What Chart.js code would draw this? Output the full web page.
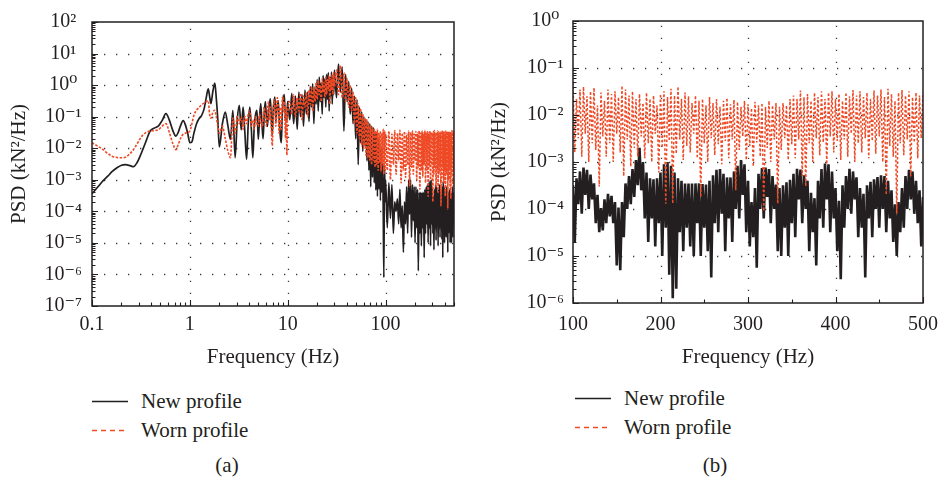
<!DOCTYPE html>
<html>
<head>
<meta charset="utf-8">
<script src="https://cdn.jsdelivr.net/npm/chart.js@4.4.0/dist/chart.umd.min.js"></script>
<style>
  body { margin: 0; background: #fff; }
  #wrap { position: relative; width: 948px; height: 481px; overflow: hidden;
          font-family: 'Liberation Serif', 'DejaVu Serif', serif; color: #231f20; }
  canvas { position: absolute; top: 0; }
  .lg { position: absolute; font-size: 21px; line-height: 24px; white-space: nowrap; }
  .lg svg { position: absolute; left: -49px; top: 11px; }
  .cap { position: absolute; font-size: 21px; line-height: 24px; transform: translateX(-50%); }
</style>
</head>
<body>
<div id="wrap">
  <canvas id="chartA" width="470" height="380" style="left:0"></canvas>
  <canvas id="chartB" width="474" height="380" style="left:474px"></canvas>

  <div class="lg" style="left:141px; top:389px">
    <svg width="36" height="3"><line x1="0" y1="1.5" x2="36" y2="1.5" stroke="#231f20" stroke-width="1.5"/></svg>New profile</div>
  <div class="lg" style="left:141px; top:418px">
    <svg width="36" height="3"><line x1="0" y1="1.5" x2="36" y2="1.5" stroke="#ef4a26" stroke-width="1.5" stroke-dasharray="5 4"/></svg>Worn profile</div>
  <div class="lg" style="left:624px; top:386px">
    <svg width="36" height="3"><line x1="0" y1="1.5" x2="36" y2="1.5" stroke="#231f20" stroke-width="1.5"/></svg>New profile</div>
  <div class="lg" style="left:624px; top:415px">
    <svg width="36" height="3"><line x1="0" y1="1.5" x2="36" y2="1.5" stroke="#ef4a26" stroke-width="1.5" stroke-dasharray="5 4"/></svg>Worn profile</div>
  <div class="cap" style="left:227px; top:453px">(a)</div>
  <div class="cap" style="left:715px; top:453px">(b)</div>
</div>

<script>
// ---- panel (a): 0.1 - 500 Hz, log frequency axis ----
var aFreq = [
  0.1, 0.115, 0.13, 0.145, 0.16, 0.18, 0.2, 0.22, 0.245, 0.265,
  0.29, 0.31, 0.33, 0.36, 0.39, 0.43, 0.475, 0.52, 0.57, 0.62,
  0.67, 0.72, 0.76, 0.8, 0.855, 0.9, 0.95, 1.0, 1.05, 1.1,
  1.17, 1.25, 1.32, 1.4, 1.47, 1.54, 1.59, 1.64, 1.72, 1.8,
  1.86, 1.93, 2.0,
  2.15, 2.3, 2.45, 2.6, 2.75, 2.9, 3.05, 3.2, 3.35, 3.5,
  3.65, 3.8, 3.95, 4.1, 4.25, 4.4, 4.55, 4.7, 4.85, 5.0,
  5.15, 5.3, 5.45, 5.6, 5.75, 5.9, 6.05, 6.2, 6.35, 6.5,
  6.65, 6.8, 6.95, 7.1, 7.25, 7.4, 7.55, 7.7, 7.85, 8.0,
  8.15, 8.3, 8.45, 8.6, 8.75, 8.9, 9.05, 9.2, 9.35, 9.5,
  9.65, 9.8, 9.95,
  10.5, 11, 11.5, 12, 12.5, 13, 13.5, 14, 14.5, 15,
  15.5, 16, 16.5, 17, 17.5, 18, 18.5, 19, 19.5, 20,
  20.5, 21, 21.5, 22, 22.5, 23, 23.5, 24, 24.5, 25,
  25.5, 26, 26.5, 27, 27.5, 28, 28.5, 29, 29.5, 30,
  31.5, 33, 34.5, 36, 37.5, 39, 40.5, 42, 43.5, 45,
  46.5, 48, 49.5, 51, 52.5, 54, 55.5, 57, 58.5, 60,
  61.5, 63, 64.5, 66, 67.5, 69, 70.5, 72, 73.5, 75,
  76.5, 78, 79.5, 81, 82.5, 84, 85.5, 87, 88.5, 90,
  91.5, 93, 94.5, 96, 97.5, 99,
  100, 104, 108, 112, 116, 120, 124, 128, 132, 136,
  140, 144, 148, 152, 156, 160, 164, 168, 172, 176,
  180, 184, 188, 192, 196, 200, 204, 208, 212, 216,
  220, 224, 228, 232, 236, 240, 244, 248, 252, 256,
  260, 264, 268, 272, 276, 280, 284, 288, 292, 296,
  300, 304, 308, 312, 316, 320, 324, 328, 332, 336,
  340, 344, 348, 352, 356, 360, 364, 368, 372, 376,
  380, 384, 388, 392, 396, 400, 404, 408, 412, 416,
  420, 424, 428, 432, 436, 440, 444, 448, 452, 456,
  460, 464, 468, 472, 476, 480, 484, 488, 492, 496,
  500
];

var aNew = [
  3.6e-4, 6e-4, 9.4e-4, 1.3e-3, 1.8e-3, 2.4e-3, 2.9e-3, 3e-3, 2.8e-3, 2.6e-3,
  3.6e-3, 5.6e-3, 9e-3, 1.8e-2, 3.4e-2, 4.3e-2, 5e-2, 7.5e-2, 0.125, 7.5e-2,
  3.6e-2, 2.4e-2, 3.2e-2, 5e-2, 7.5e-2, 5.5e-2, 3e-2, 1.5e-2, 1.6e-2, 3e-2,
  6e-2, 9e-2, 0.11, 0.18, 0.4, 0.76, 0.45, 0.26, 0.65, 1.15,
  0.4, 8e-2, 1.1e-2,
  0.06, 0.14, 0.05, 0.019, 0.16, 0.005, 0.08, 0.23, 0.038, 0.2,
  0.03, 0.0045, 0.06, 0.2, 0.04, 0.005, 0.05, 0.12, 0.16, 0.019,
  0.09, 0.26, 0.06, 0.02, 0.12, 0.3, 0.1, 0.049, 0.15, 0.25,
  0.37, 0.08, 0.027, 0.15, 0.3, 0.42, 0.07, 0.15, 0.25, 0.32,
  0.1, 0.04, 0.02, 0.015, 0.08, 0.25, 0.4, 0.5, 0.2, 0.1,
  0.07, 0.07, 0.3,
  0.08, 0.55, 0.06, 0.45, 0.04, 0.6, 0.1, 0.5, 0.05, 0.7,
  0.12, 0.6, 0.07, 0.9, 0.2, 1.1, 0.06, 0.9, 0.25, 1.5,
  0.15, 1.8, 0.3, 1.2, 0.12, 2.0, 0.4, 1.6, 0.2, 2.2,
  0.35, 2.5, 0.15, 1.8, 0.45, 2.6, 0.25, 2.0, 0.5, 3.0,
  0.4, 4.6, 0.6, 3.8, 0.035, 2.2, 0.3, 1.3, 0.12, 0.8,
  0.06, 0.45, 0.02, 0.35, 0.003, 0.2, 0.015, 0.14, 0.008, 0.1,
  0.012, 0.08, 0.004, 0.07, 0.002, 0.06, 6e-4, 0.05, 1.2e-3, 0.045,
  8e-4, 0.035, 4.7e-4, 0.03, 3e-4, 0.02, 5e-4, 0.015, 2.2e-4, 0.01,
  4e-4, 0.006, 1.5e-4, 8e-7, 3e-3, 2e-4,
  1e-3, 3e-5, 8e-4, 6e-5, 7e-4, 2e-5, 2e-4, 1e-4, 2.5e-4, 4e-5,
  5e-4, 3e-5, 1.5e-4, 5e-6, 2e-4, 4e-5, 6e-4, 2e-5, 1e-3, 8e-5,
  1e-3, 1.5e-5, 7e-4, 5e-5, 6e-4, 1e-5, 6e-4, 3e-5, 5e-4, 1.3e-6,
  4e-4, 2e-5, 4e-4, 8e-6, 4e-4, 3e-5, 4e-4, 3.4e-6, 5e-4, 2e-5,
  6e-4, 4e-5, 7e-4, 1e-5, 8e-4, 3e-5, 9e-4, 8e-6, 1e-3, 4e-5,
  6e-4, 2e-5, 3e-4, 6e-6, 5e-4, 3e-5, 7e-4, 1.2e-5, 6e-4, 4e-5,
  4e-4, 8e-6, 5e-4, 3e-5, 7e-4, 1.5e-5, 5e-4, 4e-5, 3e-4, 1.3e-5,
  6e-4, 3.4e-6, 9e-4, 3e-5, 6e-4, 1e-5, 2e-4, 4e-5, 4e-4, 1.5e-5,
  6e-4, 3e-5, 5e-4, 5e-6, 4e-4, 2e-5, 4e-4, 3e-5, 5e-4, 1e-5,
  4e-4, 4e-5, 2e-4, 1e-5, 4e-4, 3e-5, 6e-4, 1.5e-5, 4e-4, 4e-5,
  2e-4
];

var aWorn = [
  1.5e-2, 1.15e-2, 9e-3, 6.8e-3, 5.6e-3, 5.1e-3, 5e-3, 5.2e-3, 6.8e-3, 9e-3,
  1.4e-2, 2e-2, 2.6e-2, 3.2e-2, 3.5e-2, 3.6e-2, 3.8e-2, 5e-2, 6e-2, 3e-2,
  1.4e-2, 9e-3, 1.3e-2, 2e-2, 2.8e-2, 3e-2, 3.2e-2, 3.5e-2, 6e-2, 0.11,
  0.16, 0.2, 0.24, 0.27, 0.3, 0.32, 0.12, 9e-2, 0.14, 0.16,
  0.1, 5e-2, 3e-2,
  0.05, 0.02, 0.008, 0.005, 0.09, 0.03, 0.1, 0.06, 0.1, 0.04,
  0.1, 0.06, 0.12, 0.15, 0.05, 0.08, 0.04, 0.1, 0.06, 0.05,
  0.12, 0.07, 0.045, 0.08, 0.2, 0.1, 0.05, 0.12, 0.3, 0.08,
  0.2, 0.04, 0.012, 0.1, 0.35, 0.2, 0.05, 0.2, 0.4, 0.15,
  0.03, 0.2, 0.1, 0.04, 0.25, 0.45, 0.15, 0.3, 0.08, 0.02,
  0.2, 0.006, 0.1,
  0.3, 0.12, 0.5, 0.1, 0.4, 0.15, 0.55, 0.08, 0.45, 0.2,
  0.6, 0.1, 0.7, 0.25, 0.9, 0.15, 0.8, 0.3, 1.2, 0.35,
  1.4, 0.5, 1.0, 0.3, 1.6, 0.6, 1.2, 0.4, 1.8, 0.5,
  1.5, 0.7, 2.0, 0.25, 1.6, 0.7, 2.2, 0.5, 2.5, 0.9,
  3.0, 0.5, 4.2, 0.4, 2.5, 0.3, 1.6, 0.2, 1.0, 0.15,
  0.6, 0.06, 0.4, 0.03, 0.25, 0.02, 0.18, 0.012, 0.12, 0.01,
  0.09, 0.006, 0.08, 0.005, 0.06, 0.004, 0.05, 0.003, 0.045, 0.004,
  0.04, 0.0025, 0.035, 0.003, 0.04, 0.002, 0.03, 0.0035, 0.035, 0.0018,
  0.03, 0.003, 0.04, 0.0015, 0.035, 0.002,
  3e-2, 2e-3, 3.5e-2, 1e-3, 2.8e-2, 3e-3, 3.6e-2, 1.5e-3, 3e-2, 4e-3,
  3.7e-2, 8e-4, 3e-2, 2e-3, 3.4e-2, 1.2e-3, 2.8e-2, 3e-3, 3.5e-2, 6e-4,
  3.2e-2, 2.5e-3, 3.5e-2, 1.5e-3, 2.8e-2, 4e-3, 3.4e-2, 1e-3, 3e-2, 2.5e-3,
  3.6e-2, 5e-4, 3e-2, 2e-3, 3.5e-2, 1.2e-3, 3e-2, 3e-3, 3.7e-2, 8e-4,
  3e-2, 2e-3, 3.4e-2, 3e-4, 3e-2, 2.5e-3, 3.5e-2, 1e-3, 3.2e-2, 3e-3,
  3e-2, 2e-4, 3.4e-2, 1.5e-3, 3.6e-2, 2.5e-3, 3e-2, 6e-4, 3.2e-2, 2e-3,
  3.5e-2, 4e-4, 3.3e-2, 1.5e-3, 3e-2, 3e-3, 3.4e-2, 1.5e-4, 3e-2, 1.2e-3,
  3.6e-2, 2.5e-3, 3.2e-2, 8e-4, 3.3e-2, 2e-3, 3e-2, 3e-4, 3.5e-2, 1.5e-3,
  3e-2, 2.5e-3, 3.4e-2, 1.2e-4, 3e-2, 1e-3, 3.5e-2, 2e-3, 3.2e-2, 5e-4,
  3.4e-2, 2.5e-4, 3e-2, 1.5e-3, 3.6e-2, 3e-3, 3.1e-2, 6e-4, 3.4e-2, 2e-3,
  3e-2
];

var aXTicks = [0.1, 1, 10, 100];
var aXLabels = ['0.1', '1', '10', '100'];
var aYTicks = [1e-7, 1e-6, 1e-5, 1e-4, 1e-3, 1e-2, 1e-1, 1e0, 1e1, 1e2];
var aYLabels = ['10⁻⁷', '10⁻⁶', '10⁻⁵', '10⁻⁴', '10⁻³', '10⁻²', '10⁻¹', '10⁰', '10¹', '10²'];

// ---- panel (b): 100 - 500 Hz, linear frequency axis ----
var bFreq = [
  100, 102, 104, 106, 108, 110, 112, 114, 116, 118,
  120, 122, 124, 126, 128, 130, 132, 134, 136, 138,
  140, 142, 144, 146, 148, 150, 152, 154, 156, 158,
  160, 162, 164, 166, 168, 170, 172, 174, 176, 178,
  180, 182, 184, 186, 188, 190, 192, 194, 196, 198,
  200, 202, 204, 206, 208, 210, 212, 214, 216, 218,
  220, 222, 224, 226, 228, 230, 232, 234, 236, 238,
  240, 242, 244, 246, 248, 250, 252, 254, 256, 258,
  260, 262, 264, 266, 268, 270, 272, 274, 276, 278,
  280, 282, 284, 286, 288, 290, 292, 294, 296, 298,
  300, 302, 304, 306, 308, 310, 312, 314, 316, 318,
  320, 322, 324, 326, 328, 330, 332, 334, 336, 338,
  340, 342, 344, 346, 348, 350, 352, 354, 356, 358,
  360, 362, 364, 366, 368, 370, 372, 374, 376, 378,
  380, 382, 384, 386, 388, 390, 392, 394, 396, 398,
  400, 402, 404, 406, 408, 410, 412, 414, 416, 418,
  420, 422, 424, 426, 428, 430, 432, 434, 436, 438,
  440, 442, 444, 446, 448, 450, 452, 454, 456, 458,
  460, 462, 464, 466, 468, 470, 472, 474, 476, 478,
  480, 482, 484, 486, 488, 490, 492, 494, 496, 498,
  500
];

var bNew = [
  3.2e-4, 2e-5, 4.5e-4, 1.26e-4, 6.3e-4, 7.9e-5, 7.6e-4, 2e-4, 6.8e-4, 1e-4,
  5.4e-4, 1.6e-4, 3.5e-4, 5e-5, 2e-4, 3.2e-5, 1.05e-4, 3.5e-5, 1.6e-4, 5e-5,
  2.1e-4, 7e-5, 1.9e-4, 5e-5, 1.4e-4, 6.3e-6, 1.07e-4, 5e-6, 1.4e-4, 2.5e-5,
  3.5e-4, 1e-4, 5e-4, 1.26e-4, 7.1e-4, 1.8e-4, 1.1e-3, 3.2e-4, 2e-3, 2.5e-4,
  1e-3, 6.3e-5, 6e-4, 2e-5, 4.5e-4, 6.3e-5, 4.3e-4, 1.6e-5, 4.5e-4, 5e-5,
  6e-4, 1e-5, 8.9e-4, 4e-5, 1e-3, 4e-6, 8.3e-4, 1.26e-6, 6e-4, 2e-6,
  4.5e-4, 3.2e-5, 4e-4, 1.26e-5, 3.5e-4, 4e-5, 3.5e-4, 1.6e-5, 3.5e-4, 1e-5,
  3.5e-4, 5e-5, 3.5e-4, 1e-5, 3.4e-4, 4e-5, 3.3e-4, 1.26e-5, 4e-4, 3.5e-6,
  5.2e-4, 5e-5, 6.8e-4, 3.2e-5, 7.1e-4, 7.9e-5, 5.6e-4, 1.26e-5, 4.7e-4, 6.3e-5,
  4.7e-4, 2e-5, 6.3e-4, 1e-4, 8.3e-4, 6.3e-5, 1.1e-3, 2e-4, 8.9e-4, 3.2e-5,
  4e-4, 1.6e-5, 1.4e-4, 2.5e-5, 2.8e-4, 5.6e-6, 5.6e-4, 1e-4, 7.4e-4, 6.3e-5,
  7.6e-4, 1.8e-4, 7.1e-4, 5e-5, 5e-4, 1e-4, 3.3e-4, 1.26e-5, 2.8e-4, 1e-5,
  3.2e-4, 4e-5, 3.7e-4, 1e-5, 4.2e-4, 5e-5, 5.6e-4, 2.5e-5, 7.2e-4, 1.6e-4,
  6.9e-4, 5e-5, 5.2e-4, 1e-4, 4e-4, 1.26e-5, 2.2e-4, 3.2e-5, 1.7e-4, 6.3e-6,
  4e-4, 6.3e-5, 7.1e-4, 4e-5, 9.3e-4, 1.6e-4, 8.9e-4, 3.2e-5, 6.3e-4, 6.3e-5,
  2.8e-4, 1.26e-5, 1.5e-4, 3.2e-6, 3.2e-4, 4e-5, 5e-4, 1e-4, 7.2e-4, 7.9e-5,
  6.3e-4, 1.6e-4, 4.7e-4, 2.5e-5, 2.8e-4, 4e-5, 2.1e-4, 3.5e-6, 3.2e-4, 6.3e-5,
  3.8e-4, 2.5e-5, 4.3e-4, 1e-4, 4.8e-4, 4e-5, 5.2e-4, 1e-4, 5e-4, 3.2e-5,
  4e-4, 6.3e-5, 2.5e-4, 2e-5, 1.26e-4, 1e-5, 1.4e-4, 3.2e-5, 2.8e-4, 4e-5,
  5e-4, 1e-4, 6.8e-4, 1.6e-4, 6.3e-4, 7.9e-5, 4e-4, 5e-5, 2.5e-4, 1.6e-5,
  1.8e-4
];

var bWorn = [
  5e-2, 1.6e-3, 2.2e-2, 3.2e-3, 3.5e-2, 1.3e-3, 4e-2, 4e-3, 2.5e-2, 1e-3,
  3.2e-2, 2.5e-3, 3.8e-2, 1.8e-3, 1.6e-2, 3e-4, 3e-2, 3.5e-3, 2e-2, 1.3e-3,
  3.5e-2, 2.5e-3, 2.8e-2, 1e-3, 3.2e-2, 4e-3, 2.4e-2, 1.6e-3, 4.2e-2, 5e-4,
  3.5e-2, 3e-3, 2.6e-2, 8e-4, 3.2e-2, 2e-3, 2.2e-2, 1.3e-3, 2.8e-2, 3.5e-3,
  1.8e-2, 1.2e-3, 3e-2, 2.5e-3, 2.2e-2, 1e-3, 2.6e-2, 4e-3, 1.6e-2, 6e-4,
  2.8e-2, 2e-3, 3.2e-2, 1.3e-4, 2.4e-2, 2.8e-3, 3.6e-2, 1.3e-4, 2.6e-2, 1.5e-3,
  4e-2, 3e-3, 2.2e-2, 1.1e-3, 3e-2, 2.2e-3, 2.5e-2, 1.6e-3, 1.8e-2, 4e-3,
  2.6e-2, 1.2e-3, 2e-2, 1.8e-4, 2.2e-2, 2.5e-3, 1.6e-2, 1e-3, 2.4e-2, 3.2e-3,
  1.8e-2, 1.4e-3, 2.2e-2, 2.4e-3, 1.5e-2, 9e-4, 2e-2, 2.8e-3, 2.3e-2, 1.2e-3,
  1.7e-2, 3e-3, 2.1e-2, 2.5e-4, 1.9e-2, 1.8e-3, 1.5e-2, 3.5e-3, 2e-2, 1.1e-3,
  1.7e-2, 2.2e-3, 1.4e-2, 8e-4, 1.9e-2, 2.6e-3, 1.6e-2, 1.3e-3, 1.8e-2, 9e-5,
  1.5e-2, 2e-3, 2e-2, 1e-3, 1.6e-2, 3e-3, 1.8e-2, 1.3e-4, 1.5e-2, 1.8e-3,
  1.8e-2, 3.2e-3, 1.6e-2, 1.1e-3, 2.2e-2, 2.4e-3, 2.6e-2, 1.2e-3, 2.2e-2, 3e-3,
  3.3e-2, 5e-4, 2.4e-2, 3e-4, 2.8e-2, 2.5e-3, 2e-2, 1e-3, 3e-2, 3.2e-3,
  2.4e-2, 1.4e-3, 3.2e-2, 2.6e-3, 2.2e-2, 9e-4, 3e-2, 3.5e-3, 3.2e-2, 1.6e-3,
  2.2e-2, 2.8e-3, 2.8e-2, 1.1e-3, 2e-2, 3e-3, 3e-2, 1.3e-3, 2.5e-2, 4e-3,
  3.4e-2, 1e-3, 2.6e-2, 2.5e-3, 3.2e-2, 1.6e-3, 2.4e-2, 3.2e-3, 3e-2, 1.2e-3,
  2.2e-2, 2.8e-3, 3.3e-2, 1.5e-3, 2.6e-2, 3.5e-3, 3.5e-2, 1e-3, 2.4e-2, 2e-4,
  3.6e-2, 2.2e-3, 2.8e-2, 1.3e-3, 2e-2, 8e-5, 3e-2, 2.5e-3, 3.4e-2, 1.4e-3,
  2.6e-2, 3e-3, 3.2e-2, 5e-4, 2.4e-2, 2.6e-3, 3e-2, 1.2e-3, 2.6e-2, 3.2e-3,
  3e-2
];

var bXTicks = [100, 200, 300, 400, 500];
var bXLabels = ['100', '200', '300', '400', '500'];
var bYTicks = [1e-6, 1e-5, 1e-4, 1e-3, 1e-2, 1e-1, 1e0];
var bYLabels = ['10⁻⁶', '10⁻⁵', '10⁻⁴', '10⁻³', '10⁻²', '10⁻¹', '10⁰'];

var BLACK = '#231f20';
var RED = '#ef4a26';

Chart.defaults.font.family = "'Liberation Serif', 'DejaVu Serif', serif";
Chart.defaults.color = BLACK;

function pairs(xs, ys) {
    return xs.map(function (x, i) { return { x: x, y: ys[i] }; });
}

// minor ticks 2..9 inside each decade
function logMinors(decades, max) {
    var out = [];
    decades.forEach(function (d) {
        for (var k = 2; k <= 9; k++) {
            if (d * k <= max * 1.0001) out.push(d * k);
        }
    });
    return out;
}

// dotted grid under the curves, box and inward ticks on top
var frameTicks = {
    id: 'frameTicks',
    beforeDatasetsDraw: function (chart, args, o) {
        var ctx = chart.ctx, a = chart.chartArea, x = chart.scales.x, y = chart.scales.y;
        ctx.save();
        ctx.strokeStyle = '#3c3c3c';
        ctx.lineWidth = 1.3;
        ctx.setLineDash([1.3, 10.7]);
        ctx.beginPath();
        o.xGrid.forEach(function (v) {
            var p = Math.round(x.getPixelForValue(v)) + 0.5;
            ctx.moveTo(p, a.bottom); ctx.lineTo(p, a.top);
        });
        o.yGrid.forEach(function (v) {
            var p = Math.round(y.getPixelForValue(v)) + 0.5;
            ctx.moveTo(a.left, p); ctx.lineTo(a.right, p);
        });
        ctx.stroke();
        ctx.restore();
    },
    afterDatasetsDraw: function (chart, args, o) {
        var ctx = chart.ctx, a = chart.chartArea, x = chart.scales.x, y = chart.scales.y;
        ctx.save();
        ctx.strokeStyle = BLACK;
        ctx.lineWidth = 1.1;
        ctx.beginPath();
        function xt(vals, len) {
            vals.forEach(function (v) {
                var p = Math.round(x.getPixelForValue(v)) + 0.5;
                ctx.moveTo(p, a.bottom); ctx.lineTo(p, a.bottom - len);
            });
        }
        function yt(vals, len) {
            vals.forEach(function (v) {
                var p = Math.round(y.getPixelForValue(v)) + 0.5;
                ctx.moveTo(a.left, p); ctx.lineTo(a.left + len, p);
            });
        }
        xt(o.xMajor, 6); xt(o.xMinor, 3.5);
        yt(o.yMajor, 6); yt(o.yMinor, 3.5);
        ctx.stroke();
        ctx.lineWidth = 1.5;
        ctx.strokeRect(a.left, a.top, a.right - a.left, a.bottom - a.top);
        ctx.restore();
    }
};

function makeChart(id, c) {
    return new Chart(document.getElementById(id), {
        type: 'line',
        data: {
            datasets: [
                { label: 'Worn profile', data: pairs(c.freq, c.worn), borderColor: RED,
                  borderWidth: c.redW, borderDash: c.redDash, order: 0,
                  cubicInterpolationMode: c.smooth ? 'monotone' : 'default' },
                { label: 'New profile', data: pairs(c.freq, c.neu), borderColor: BLACK,
                  borderWidth: c.blackW, order: 1,
                  cubicInterpolationMode: c.smooth ? 'monotone' : 'default' }
            ]
        },
        options: {
            responsive: false,
            animation: false,
            devicePixelRatio: 1,
            parsing: false,
            normalized: true,
            elements: { point: { radius: 0 }, line: { tension: 0 } },
            layout: { padding: { top: 17, right: c.padRight, left: 0, bottom: 0 } },
            plugins: {
                legend: { display: false },
                tooltip: { enabled: false },
                frameTicks: c.marks
            },
            scales: {
                x: {
                    type: c.xType, min: c.xMin, max: c.xMax,
                    afterBuildTicks: function (s) { s.ticks = c.xTicks.map(function (v) { return { value: v }; }); },
                    afterFit: function (s) { s.height = c.xAxisH; },
                    grid: { display: false, drawTicks: false },
                    border: { display: false },
                    ticks: { autoSkip: false, maxRotation: 0, padding: c.xPad, font: { size: 20 },
                             callback: function (v, i) { return c.xLabels[i]; } },
                    title: { display: true, text: 'Frequency (Hz)', font: { size: 21 },
                             padding: { top: 0, bottom: 10 } }
                },
                y: {
                    type: 'logarithmic', min: c.yTicks[0], max: c.yTicks[c.yTicks.length - 1],
                    afterBuildTicks: function (s) { s.ticks = c.yTicks.map(function (v) { return { value: v }; }); },
                    afterFit: function (s) { s.width = c.yAxisW; },
                    grid: { display: false, drawTicks: false },
                    border: { display: false },
                    ticks: { autoSkip: false, crossAlign: 'center', padding: c.yPad, font: { size: 20 },
                             callback: function (v, i) { return c.yLabels[i]; } },
                    title: { display: true, text: 'PSD (kN²/Hz)', font: { size: 21 },
                             padding: { top: c.yTitlePad, bottom: 0 } }
                }
            }
        },
        plugins: [frameTicks]
    });
}

makeChart('chartA', {
    freq: aFreq, neu: aNew, worn: aWorn, smooth: true,
    blackW: 1.7, redW: 1.6, redDash: [2.5, 1.5],
    xType: 'logarithmic', xMin: 0.1, xMax: 500, xTicks: aXTicks, xLabels: aXLabels,
    yTicks: aYTicks, yLabels: aYLabels,
    padRight: 16, xAxisH: 74, yAxisW: 92, xPad: 7, yPad: 10, yTitlePad: 7,
    marks: {
        xGrid: [1, 10, 100], yGrid: aYTicks.slice(1, -1),
        xMajor: aXTicks, xMinor: logMinors(aXTicks, 500),
        yMajor: aYTicks, yMinor: logMinors(aYTicks, 1e2)
    }
});

makeChart('chartB', {
    freq: bFreq, neu: bNew, worn: bWorn, smooth: false,
    blackW: 2.6, redW: 1.5, redDash: [2.5, 2],
    xType: 'linear', xMin: 100, xMax: 500, xTicks: bXTicks, xLabels: bXLabels,
    yTicks: bYTicks, yLabels: bYLabels,
    padRight: 18, xAxisH: 77, yAxisW: 99, xPad: 10, yPad: 9, yTitlePad: 13,
    marks: {
        xGrid: [200, 300, 400], yGrid: bYTicks.slice(1, -1),
        xMajor: bXTicks, xMinor: [150, 250, 350, 450],
        yMajor: bYTicks, yMinor: logMinors(bYTicks, 1)
    }
});
</script>
</body>
</html>
